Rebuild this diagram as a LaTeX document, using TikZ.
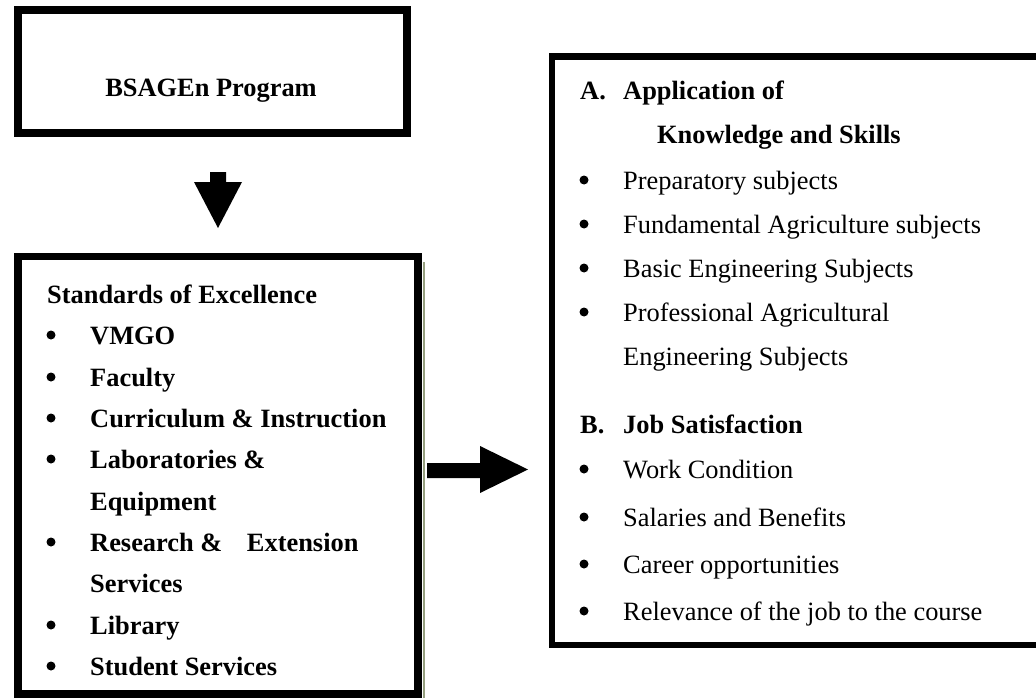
\documentclass[tikz,border=0pt]{standalone}
\usepackage{fontspec}
\setmainfont{Liberation Serif}
\begin{document}
\begin{tikzpicture}[x=1pt,y=-1pt,
  boxa/.style={draw, line width=8pt, minimum width=389pt, minimum height=123pt, inner sep=0pt},
  boxb/.style={draw, line width=7.5pt, minimum width=400pt, minimum height=437.5pt, inner sep=0pt},
  boxc/.style={draw, line width=6.5pt, minimum width=490pt, minimum height=588.5pt, inner sep=0pt},
  lbl/.style={anchor=base west, inner sep=0pt, font=\fontsize{26.4}{30}\selectfont},
  blbl/.style={anchor=base west, inner sep=0pt, font=\fontsize{26.4}{30}\selectfont\bfseries},
  bul/.style={circle, fill=black, inner sep=0pt, minimum size=9pt},
  shade/.style={draw={rgb,255:red,150;green,160;blue,128}, line width=2.5pt}
]
\useasboundingbox (0,0) rectangle (1036,698);
\begin{scope}
\clip (0,0) rectangle (1036,698);
% boxes
\node[boxa] (top) at (212.5,71.5) {};
\node[boxb] (std) at (218,475.25) {};
\node[boxc] (res) at (797,350.75) {};
\draw[shade] (424,262) -- (424,698);
\end{scope}
% top text
\node[blbl, anchor=base] (prog) at (211,97) {BSAGEn Program};
% down block arrow
\fill (210,172) -- (226,172) -- (226,182) -- (242,182) -- (218,228) -- (194,182) -- (210,182) -- cycle;
% right block arrow
\fill (427,463) -- (480,463) -- (480,446) -- (528,469.5) -- (480,493) -- (480,478) -- (427,478) -- cycle;
% left box text
\node[blbl] (s0) at (47,303) {Standards of Excellence};
\foreach \y/\t [count=\i] in {344/VMGO, 386/Faculty, 427/Curriculum \& Instruction, 468/Laboratories \&, 551/Research \& \hspace{18pt}Extension, 634/Library, 675/Student Services}{
  \node[bul] (lb\i) at (51,\y-9) {};
  \node[blbl] (lt\i) at (90,\y) {\t};
}
\node[blbl] (lt8) at (90,510) {Equipment};
\node[blbl] (lt9) at (90,592) {Services};
% right box text
\node[blbl] (ra) at (580,100) {A.};
\node[blbl] (ra1) at (623,100) {Application of};
\node[blbl] (ra2) at (657,144) {Knowledge and Skills};
\foreach \y/\t [count=\i] in {189/Preparatory subjects, 233/Fundamental Agriculture subjects, 277/Basic Engineering Subjects, 321/Professional Agricultural}{
  \node[bul] (rb\i) at (584,\y-9) {};
  \node[lbl] (rt\i) at (623,\y) {\t};
}
\node[lbl] (rt5) at (623,365) {Engineering Subjects};
\node[blbl] (rbb) at (580,433) {B.};
\node[blbl] (rbb1) at (623,433) {Job Satisfaction};
\foreach \y/\t [count=\i] in {478/Work Condition, 526/Salaries and Benefits, 573/Career opportunities, 620/Relevance of the job to the course}{
  \node[bul] (rc\i) at (584,\y-9) {};
  \node[lbl] (rs\i) at (623,\y) {\t};
}
\end{tikzpicture}
\end{document}
